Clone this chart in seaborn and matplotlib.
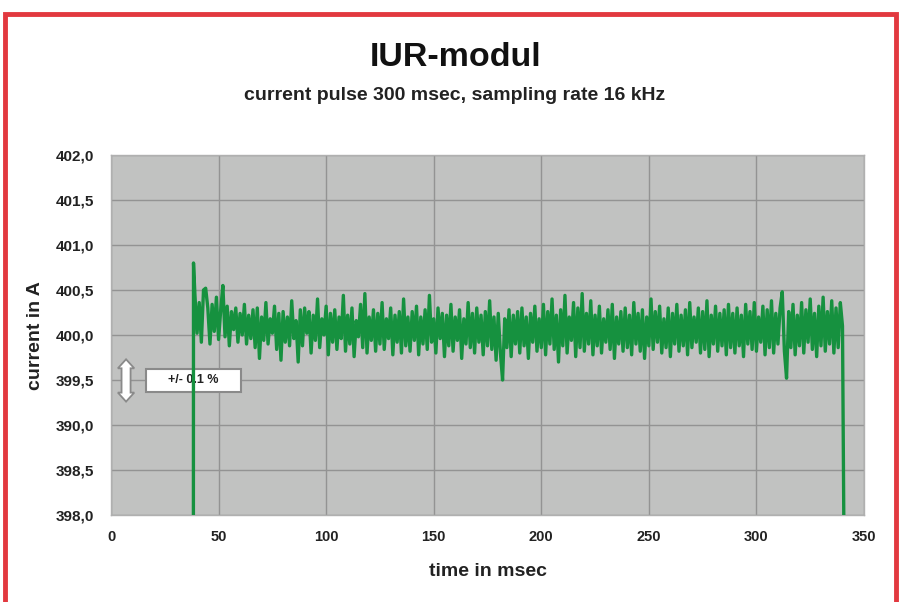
import numpy as np
import pandas as pd
import matplotlib
matplotlib.use("Agg")
import matplotlib.pyplot as plt
import seaborn as sns
from matplotlib.patches import Rectangle, Polygon

# ---------------- data ----------------
title = "IUR-modul"
subtitle = "current pulse 300 msec, sampling rate 16 kHz"
x_label = "time in msec"
y_label = "current in A"
x_ticks = [0, 50, 100, 150, 200, 250, 300, 350]
y_ticks = [402.0, 401.5, 401.0, 400.5, 400.0, 399.5, 399.0, 398.5, 398.0]
y_tick_labels = ["402,0", "401,5", "401,0", "400,5", "400,0", "399,5", "390,0", "398,5", "398,0"]
note_text = "+/- 0.1 %"

pulse_start_t = 38.3      # ms, rising edge
pulse_start_peak = 400.8  # A, overshoot at switch-on
pulse_end_t = 340.6       # ms, falling edge
base_current = 398.0      # A, axis floor reached at edges
first_sample_t = 39.0     # ms
sample_step = 1.0         # ms (displayed resolution)

seg_a = [400.45, 400.02, 400.36, 399.92, 400.50, 400.52, 400.30, 399.90, 400.34, 400.04,
         400.42, 399.95, 400.28, 400.55, 399.98, 400.32, 399.88, 400.26, 400.06, 400.30,
         399.92, 400.24, 400.00, 400.34, 399.90, 400.22, 399.96, 400.28, 399.86, 400.30,
         399.74, 400.20, 399.94, 400.36, 399.90, 400.18, 400.02, 400.32, 399.84, 400.24,
         399.72, 400.26, 399.92, 400.20, 399.88, 400.38, 399.96, 400.16, 399.70, 400.28]
seg_b = [399.88, 400.30, 400.02, 400.26, 399.80, 400.22, 399.94, 400.40, 399.86, 400.18,
         400.00, 400.32, 399.78, 400.24, 399.92, 400.28, 399.84, 400.20, 399.96, 400.44,
         399.82, 400.22, 399.90, 400.30, 399.76, 400.16, 399.98, 400.34, 399.86, 400.46,
         399.80, 400.20, 399.94, 400.28, 399.82, 400.24, 399.90, 400.36, 399.84, 400.18,
         399.96, 400.30, 399.78, 400.22, 399.92, 400.26, 399.80, 400.40, 399.88, 400.20]
seg_c = [399.82, 400.26, 399.94, 400.32, 399.78, 400.20, 399.90, 400.28, 399.84, 400.44,
         399.92, 400.18, 399.80, 400.30, 399.96, 400.24, 399.76, 400.22, 399.88, 400.34,
         399.82, 400.20, 399.94, 400.28, 399.74, 400.18, 399.90, 400.36, 399.86, 400.24,
         399.80, 400.30, 399.92, 400.22, 399.78, 400.26, 399.88, 400.38, 399.84, 400.20,
         399.72, 400.24, 399.80, 399.50, 400.18, 399.86, 400.28, 399.76, 400.22, 399.90]
seg_d = [400.26, 399.80, 400.30, 399.88, 400.20, 399.74, 400.24, 399.92, 400.32, 399.82,
         400.18, 399.86, 400.34, 399.78, 400.26, 399.90, 400.40, 399.84, 400.22, 399.70,
         400.28, 399.88, 400.44, 399.80, 400.20, 399.94, 400.36, 399.76, 400.30, 399.86,
         400.46, 399.82, 400.24, 399.90, 400.38, 399.78, 400.22, 399.88, 400.32, 399.80,
         400.18, 399.92, 400.28, 399.84, 400.34, 399.74, 400.20, 399.90, 400.26, 399.82]
seg_e = [400.30, 399.86, 400.22, 399.78, 400.36, 399.90, 400.24, 399.82, 400.28, 399.74,
         400.20, 399.88, 400.40, 399.84, 400.26, 399.92, 400.32, 399.80, 400.18, 399.86,
         400.30, 399.76, 400.24, 399.90, 400.34, 399.82, 400.22, 399.88, 400.28, 399.78,
         400.36, 399.86, 400.20, 399.92, 400.30, 399.80, 400.26, 399.84, 400.38, 399.76,
         400.22, 399.90, 400.32, 399.82, 400.24, 399.88, 400.28, 399.78, 400.34, 399.86]
seg_f = [400.24, 399.80, 400.30, 399.88, 400.22, 399.76, 400.34, 399.90, 400.26, 399.84,
         400.36, 399.82, 400.20, 399.92, 400.32, 399.78, 400.28, 399.86, 400.38, 399.80,
         400.24, 399.90, 400.30, 400.48, 399.82, 399.52, 400.26, 399.86, 400.34, 399.78,
         400.22, 399.88, 400.36, 399.80, 400.28, 399.92, 400.40, 399.84, 400.24, 399.76,
         400.32, 399.88, 400.42, 399.82, 400.26, 399.90, 400.38, 399.80, 400.30, 399.86,
         400.36, 400.10]

# ---------------- assemble series ----------------
samples = seg_a + seg_b + seg_c + seg_d + seg_e + seg_f
t_samples = first_sample_t + sample_step * np.arange(len(samples))
t_all = np.concatenate([[pulse_start_t, pulse_start_t + 0.05], t_samples, [pulse_end_t]])
i_all = np.concatenate([[base_current, pulse_start_peak], samples, [base_current]])
df = pd.DataFrame({"t": t_all, "I": i_all})

# ---------------- style ----------------
sns.set_style("whitegrid")
plt.rcParams["font.family"] = ["Liberation Sans", "DejaVu Sans"]

GREEN = "#16913f"
PLOT_BG = "#c1c2c1"
GRID = "#939393"
RED = "#e2393f"

fig = plt.figure(figsize=(9.01, 6.02), dpi=100)
fig.patch.set_facecolor("white")
W, H = 901.0, 602.0
ax = fig.add_axes([111 / W, 87 / H, 753 / W, 360 / H])
ax.set_facecolor(PLOT_BG)

sns.lineplot(data=df, x="t", y="I", ax=ax, color=GREEN, linewidth=2.4,
             estimator=None, sort=False, zorder=4)

ax.set_xlim(0, 350)
ax.set_ylim(398, 402)
ax.set_xticks(x_ticks)
ax.set_xticklabels([str(v) for v in x_ticks], fontsize=10.5, fontweight="bold", color="#222222")
ax.set_yticks(y_ticks)
ax.set_yticklabels(y_tick_labels, fontsize=11, fontweight="bold", color="#222222")
ax.tick_params(axis="both", length=3, color="#9a9a9a", width=0.8)
ax.tick_params(axis="y", pad=9)
ax.tick_params(axis="x", pad=8)
ax.grid(True, color=GRID, linewidth=1.0, zorder=1)
ax.set_axisbelow(True)
for s in ax.spines.values():
    s.set_visible(True)
    s.set_color("#b0b0b0")
    s.set_linewidth(1.0)
ax.set_xlabel("")
ax.set_ylabel("")

# annotation: double arrow + text box
cx, top, bot = 7.0, 399.73, 399.26
hw, bw, hl = 3.8, 2.1, 0.1
arrow = Polygon([(cx, top), (cx + hw, top - hl), (cx + bw, top - hl), (cx + bw, bot + hl),
                 (cx + hw, bot + hl), (cx, bot), (cx - hw, bot + hl), (cx - bw, bot + hl),
                 (cx - bw, top - hl), (cx - hw, top - hl)], closed=True,
                facecolor="white", edgecolor="#8a8a8a", linewidth=1.3, zorder=3)
ax.add_patch(arrow)
box = Rectangle((16.3, 399.37), 44.3, 0.25, facecolor="white", edgecolor="#8a8a8a",
                linewidth=1.5, zorder=3)
ax.add_patch(box)
ax.text(38.4, 399.495, note_text, ha="center", va="center", fontsize=9,
        fontweight="bold", color="#222222", zorder=3.5)

# titles and axis labels
fig.text(456 / W, 1 - 58 / H, title, ha="center", va="center", fontsize=24.5,
         fontweight="bold", color="#111111")
fig.text(455 / W, 1 - 95 / H, subtitle, ha="center", va="center", fontsize=14,
         fontweight="bold", color="#222222")
fig.text(35 / W, 1 - 336 / H, y_label, ha="center", va="center", rotation=90,
         fontsize=14, fontweight="bold", color="#222222")
fig.text(488 / W, 1 - 571 / H, x_label, ha="center", va="center", fontsize=14,
         fontweight="bold", color="#222222")

# red frame (bottom edge outside the picture)
fig.patches.append(Rectangle((5 / W, -0.05), 891 / W, (1 - 14 / H) + 0.05,
                             transform=fig.transFigure, fill=False, edgecolor=RED,
                             linewidth=3.5, zorder=10))

fig.savefig("out.png", dpi=100, facecolor="white")
